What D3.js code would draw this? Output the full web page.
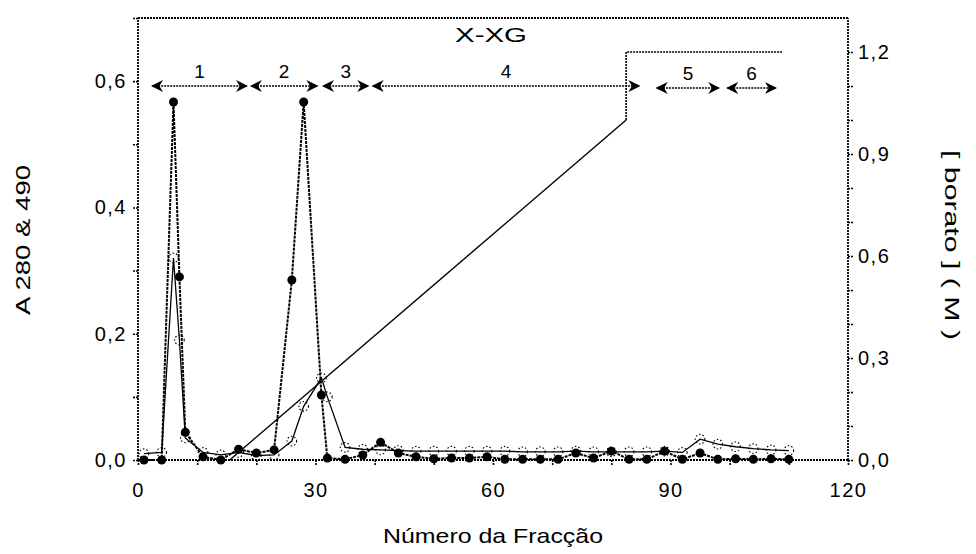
<!DOCTYPE html>
<html>
<head>
<meta charset="utf-8">
<script src="https://cdn.jsdelivr.net/npm/d3@7"></script>
<style>
  body { margin: 0; background: #fff; }
  text { font-family: "Liberation Sans", Arial, sans-serif; fill: #000; }
</style>
</head>
<body>
<div id="chart"></div>
<script>
/* fractions and absorbance values */
var fractions = [1, 4, 6, 7, 8, 11, 14, 17, 20, 23, 26, 28, 31, 32, 35, 38, 41, 44, 47, 50, 53, 56, 59, 62, 65, 68, 71, 74, 77, 80, 83, 86, 89, 92, 95, 98, 101, 104, 107, 110];
var a280 = [0, 0, 0.567, 0.29, 0.044, 0.005, 0, 0.017, 0.011, 0.016, 0.285, 0.567, 0.103, 0.003, 0.001, 0.008, 0.028, 0.011, 0.005, 0.002, 0.003, 0.003, 0.005, 0.001, 0.001, 0.001, 0.001, 0.011, 0.003, 0.014, 0.001, 0.001, 0.014, 0.001, 0.011, 0.001, 0.002, 0.001, 0.002, 0.001];
var a490 = [0.01, 0.012, 0.32, 0.19, 0.035, 0.012, 0.008, 0.012, 0.007, 0.008, 0.03, 0.085, 0.13, 0.1, 0.02, 0.017, 0.016, 0.015, 0.014, 0.014, 0.014, 0.014, 0.014, 0.014, 0.013, 0.013, 0.013, 0.014, 0.013, 0.013, 0.013, 0.013, 0.014, 0.012, 0.033, 0.025, 0.021, 0.018, 0.016, 0.015];
/* borate gradient */
var borateFrac = [15.5, 82.5, 82.5, 109];
var borateM = [0, 1.0, 1.2, 1.2];
/* pooled peaks */
var poolLabels = ["1", "2", "3", "4", "5", "6"];
var poolStart = [2.4, 19.1, 31.3, 39.7, 87.7, 99.6];
var poolEnd = [18.4, 30.3, 38.9, 84.7, 98.2, 107.8];

var xTicks = d3.range(0, 121, 10);
var xLabels = [0, 30, 60, 90, 120];
var yLTicks = d3.range(0, 8).map(function(d){ return d / 10; });
var yLLabels = [0, 0.2, 0.4, 0.6];
var yRTicks = d3.range(0, 13).map(function(d){ return d / 10; });
var yRLabels = [0, 0.3, 0.6, 0.9, 1.2];

var W = 976, H = 554;
var plotLeft = 138, plotRight = 848, plotTop = 18, plotBottom = 460;

var svg = d3.select("#chart").append("svg")
    .attr("width", W)
    .attr("height", H);

var x = d3.scaleLinear().domain([0, 120]).range([plotLeft, plotRight]);
var yL = d3.scaleLinear().domain([0, 0.7]).range([plotBottom, plotTop]);
var yR = d3.scaleLinear().domain([0, 1.3]).range([plotBottom, plotTop]);

function comma(d) { return d3.format(".1f")(d).replace(".", ","); }
function isLabel(list, d) {
    for (var i = 0; i < list.length; i++) { if (Math.abs(list[i] - d) < 1e-6) return true; }
    return false;
}

/* axes */
var xAxis = d3.axisBottom(x).tickValues(xTicks).tickSize(6).tickPadding(17)
    .tickFormat(function(d){ return isLabel(xLabels, d) ? d : ""; });
var leftAxis = d3.axisLeft(yL).tickValues(yLTicks).tickSize(6).tickPadding(5)
    .tickFormat(function(d){ return isLabel(yLLabels, d) ? comma(d) : ""; });
var rightAxis = d3.axisRight(yR).tickValues(yRTicks).tickSize(6).tickPadding(4)
    .tickFormat(function(d){ return isLabel(yRLabels, d) ? comma(d) : ""; });

var gx = svg.append("g").attr("transform", "translate(0," + plotBottom + ")").call(xAxis);
var gl = svg.append("g").attr("transform", "translate(" + plotLeft + ",0)").call(leftAxis);
var gr = svg.append("g").attr("transform", "translate(" + plotRight + ",0)").call(rightAxis);

[gx, gl, gr].forEach(function(g){
    g.select(".domain").attr("stroke", "#000").attr("stroke-width", 1.8).attr("stroke-dasharray", "2,1");
    g.selectAll(".tick line").attr("stroke", "#000").attr("stroke-width", 1.6).attr("stroke-dasharray", "2,1");
    g.selectAll(".tick text")
        .style("font-size", "20px")
        .style("letter-spacing", "1.5px")
        .style("font-family", "Liberation Sans, Arial, sans-serif");
});
gl.select(".domain").attr("d", "M0," + plotBottom + "V" + plotTop);
gr.select(".domain").attr("d", "M0," + plotBottom + "V" + plotTop);
gx.select(".domain").attr("d", "M" + plotLeft + ",0H" + plotRight);

/* top frame */
svg.append("line")
    .attr("x1", plotLeft).attr("x2", plotRight)
    .attr("y1", plotTop).attr("y2", plotTop)
    .attr("stroke", "#000").attr("stroke-width", 1.8).attr("stroke-dasharray", "2,1");

/* axis titles */
svg.append("text")
    .attr("x", 383).attr("y", 543)
    .attr("textLength", 220).attr("lengthAdjust", "spacingAndGlyphs")
    .style("font-size", "21px")
    .text("Número da Fracção");
svg.append("text")
    .attr("transform", "translate(30,315) rotate(-90)")
    .attr("textLength", 150).attr("lengthAdjust", "spacingAndGlyphs")
    .style("font-size", "21px")
    .text("A 280 & 490");
svg.append("text")
    .attr("transform", "translate(945,150) rotate(90)")
    .attr("textLength", 190).attr("lengthAdjust", "spacingAndGlyphs")
    .style("font-size", "21px")
    .text("[ borato ] ( M )");
svg.append("text")
    .attr("x", 455).attr("y", 42)
    .attr("textLength", 72).attr("lengthAdjust", "spacingAndGlyphs")
    .style("font-size", "21px")
    .text("X-XG");

/* pool arrows */
var defs = svg.append("defs");
defs.append("marker")
    .attr("id", "head")
    .attr("viewBox", "0 0 10 10")
    .attr("refX", 9).attr("refY", 5)
    .attr("markerWidth", 12).attr("markerHeight", 12)
    .attr("markerUnits", "userSpaceOnUse")
    .attr("orient", "auto-start-reverse")
    .append("path")
    .attr("d", "M0,0 L10,5 L0,10 L3,5 Z")
    .attr("fill", "#000");

var pools = poolLabels.map(function(l, i){ return {label: l, s: poolStart[i], e: poolEnd[i], y: i < 4 ? 86 : 88}; });
svg.selectAll("line.pool")
    .data(pools)
    .enter()
    .append("line")
    .attr("class", "pool")
    .attr("x1", function(d){ return x(d.s); })
    .attr("x2", function(d){ return x(d.e); })
    .attr("y1", function(d){ return d.y; })
    .attr("y2", function(d){ return d.y; })
    .attr("stroke", "#000").attr("stroke-width", 1.6).attr("stroke-dasharray", "2,1")
    .attr("marker-start", "url(#head)")
    .attr("marker-end", "url(#head)");
svg.selectAll("text.pool")
    .data(pools)
    .enter()
    .append("text")
    .attr("class", "pool")
    .attr("x", function(d){ return x((d.s + d.e) / 2); })
    .attr("y", function(d){ return d.y - 8; })
    .attr("text-anchor", "middle")
    .style("font-size", "19px")
    .text(function(d){ return d.label; });

/* borate gradient line: solid ramp, dotted step */
var borate = borateFrac.map(function(f, i){ return [f, borateM[i]]; });
var lineR = d3.line().x(function(d){ return x(d[0]); }).y(function(d){ return yR(d[1]); });
svg.append("path")
    .datum(borate.slice(0, 2))
    .attr("fill", "none")
    .attr("stroke", "#000")
    .attr("stroke-width", 1.4)
    .attr("d", lineR);
svg.append("path")
    .datum(borate.slice(1))
    .attr("fill", "none")
    .attr("stroke", "#000")
    .attr("stroke-width", 1.6)
    .attr("stroke-dasharray", "2,1")
    .attr("d", lineR);

/* A490 : open dotted circles, thin line */
var s490 = fractions.map(function(f, i){ return [f, a490[i]]; });
var s280 = fractions.map(function(f, i){ return [f, a280[i]]; });
var lineL = d3.line().x(function(d){ return x(d[0]); }).y(function(d){ return yL(d[1]); });

svg.append("path")
    .datum(s490)
    .attr("fill", "none")
    .attr("stroke", "#000")
    .attr("stroke-width", 1.3)
    .attr("d", lineL);
svg.selectAll("circle.a490")
    .data(s490)
    .enter()
    .append("circle")
    .attr("class", "a490")
    .attr("cx", function(d){ return x(d[0]); })
    .attr("cy", function(d){ return yL(d[1]); })
    .attr("r", 4.8)
    .attr("fill", "none")
    .attr("stroke", "#000")
    .attr("stroke-width", 1.1)
    .attr("stroke-dasharray", "1.5,2");

/* A280 : filled markers, dotted line */
svg.append("path")
    .datum(s280)
    .attr("fill", "none")
    .attr("stroke", "#000")
    .attr("stroke-width", 2)
    .attr("stroke-dasharray", "3,1")
    .attr("d", lineL);
svg.selectAll("circle.a280")
    .data(s280)
    .enter()
    .append("circle")
    .attr("class", "a280")
    .attr("cx", function(d){ return x(d[0]); })
    .attr("cy", function(d){ return yL(d[1]); })
    .attr("r", 4.5)
    .attr("fill", "#000");
</script>
</body>
</html>
